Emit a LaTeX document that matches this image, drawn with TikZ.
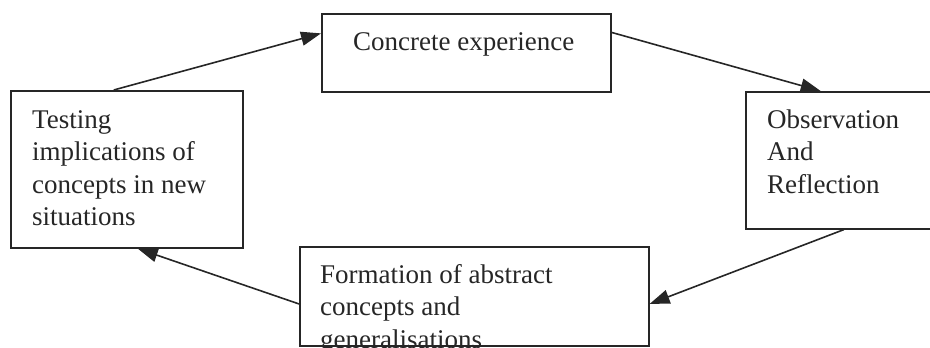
\documentclass[tikz,border=0pt]{standalone}
\usepackage{fontspec}
\setmainfont{Liberation Serif}
\usetikzlibrary{arrows.meta,calc}
\definecolor{ink}{HTML}{262626}
\begin{document}
\begin{tikzpicture}[x=1pt,y=-1pt,
  stage/.style={draw=ink,line width=1.6pt,inner sep=0pt,rectangle,anchor=north west},
  caption/.style={anchor=north west,inner sep=0pt,align=left,
    font=\fontsize{27}{32.5}\selectfont,text=ink},
  flow/.style={draw=ink,line width=1.6pt,-{Triangle[length=20pt,width=14pt]}}]
  \useasboundingbox (0,0) rectangle (930,348);

  % the four stages of the cycle
  \node[stage,minimum width=289pt,minimum height=78pt]  (concrete)    at (321,13)  {};
  \node[stage,minimum width=232pt,minimum height=157pt] (testing)     at (10,90)   {};
  \node[stage,minimum width=190pt,minimum height=137pt] (observation) at (745,91)  {};
  \node[stage,minimum width=349pt,minimum height=99pt]  (formation)   at (299,246) {};

  % their texts, set from the top left corner
  \node[caption] (concretetext)    at (353,27.25)  {\strut Concrete experience};
  \node[caption] (testingtext)     at (32,105.25)  {\strut Testing\\implications of\\concepts in new\\situations};
  \node[caption] (observationtext) at (767,105.25) {\strut Observation\\And\\Reflection};
  \node[caption] (formationtext)   at (320,260.25) {\strut Formation of abstract\\concepts and\\generalisations};

  % the cycle, clockwise
  \draw[flow] ($(testing.north west)!0.444!(testing.north east)$)
           -- ($(concrete.north west)!0.256!(concrete.south west)$);
  \draw[flow] ($(concrete.north east)!0.244!(concrete.south east)$)
           -- ($(observation.north west)!0.395!(observation.north east)$);
  \draw[flow] ($(observation.south west)!0.516!(observation.south east)$)
           -- ($(formation.north east)!0.576!(formation.south east)$);
  \draw[flow] ($(formation.north west)!0.576!(formation.south west)$)
           -- ($(testing.south west)!0.547!(testing.south east)$);
\end{tikzpicture}
\end{document}
